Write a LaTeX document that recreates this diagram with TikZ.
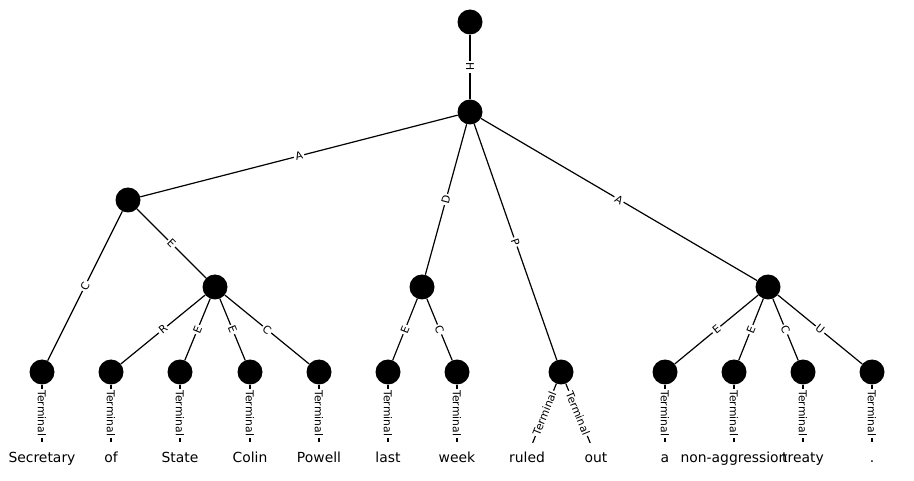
\documentclass[tikz,border=0pt]{standalone}
\usepackage{fontspec}
\setmainfont{DejaVu Sans}
\begin{document}
\begin{tikzpicture}[x=1pt,y=-1pt,
  vtx/.style={circle,fill=black,minimum size=25pt,inner sep=0pt},
  wpos/.style={circle,minimum size=30pt,inner sep=0pt},
  wtxt/.style={font=\fontsize{13.9}{16}\selectfont,inner sep=0pt,anchor=base},
  elab/.style={midway,sloped,fill=white,inner sep=1.5pt,font=\fontsize{10.8}{12}\selectfont},
  edge/.style={line width=1.2pt}]
\useasboundingbox (0,0) rectangle (914,481);
% internal nodes
\node[vtx] (top)  at (470,22) {};
\node[vtx] (root) at (470,112) {};
\node[vtx] (nA)   at (128,200) {};
\node[vtx] (nE)   at (215,287) {};
\node[vtx] (nD)   at (422,287) {};
\node[vtx] (nA2)  at (768,287) {};
% leaves
\foreach \n/\x in {1/42,2/111,3/180,4/250,5/319,6/388,7/457,8/561,9/665,10/734,11/803,12/872}
  {\node[vtx] (l\n) at (\x,372) {};}
% words
\foreach \n/\x/\w in {1/42/Secretary,2/111/of,3/180/State,4/250/Colin,5/319/Powell,6/388/last,7/457/week,8/527/ruled,9/596/out,10/665/a,11/734/non-aggression,12/803/treaty,13/872/.}
  {\node[wpos] (w\n) at (\x,457) {};
   \node[wtxt] (t\n) at (\x,462.5) {\w};}
% edges
\draw[edge] (top) -- node[elab]{H} (root);
\draw[edge] (root) -- node[elab]{A} (nA);
\draw[edge] (root) -- node[elab]{D} (nD);
\draw[edge] (root) -- node[elab]{P} (l8);
\draw[edge] (root) -- node[elab]{A} (nA2);
\draw[edge] (nA) -- node[elab]{C} (l1);
\draw[edge] (nA) -- node[elab]{E} (nE);
\draw[edge] (nE) -- node[elab]{R} (l2);
\draw[edge] (nE) -- node[elab]{E} (l3);
\draw[edge] (nE) -- node[elab]{E} (l4);
\draw[edge] (nE) -- node[elab]{C} (l5);
\draw[edge] (nD) -- node[elab]{E} (l6);
\draw[edge] (nD) -- node[elab]{C} (l7);
\draw[edge] (nA2) -- node[elab]{E} (l9);
\draw[edge] (nA2) -- node[elab]{E} (l10);
\draw[edge] (nA2) -- node[elab]{C} (l11);
\draw[edge] (nA2) -- node[elab]{U} (l12);
% terminal edges
\foreach \a/\b in {1/1,2/2,3/3,4/4,5/5,6/6,7/7,8/8,8/9,9/10,10/11,11/12,12/13}
  {\draw[edge] (l\a) -- node[elab]{Terminal} (w\b);}
\end{tikzpicture}
\end{document}
